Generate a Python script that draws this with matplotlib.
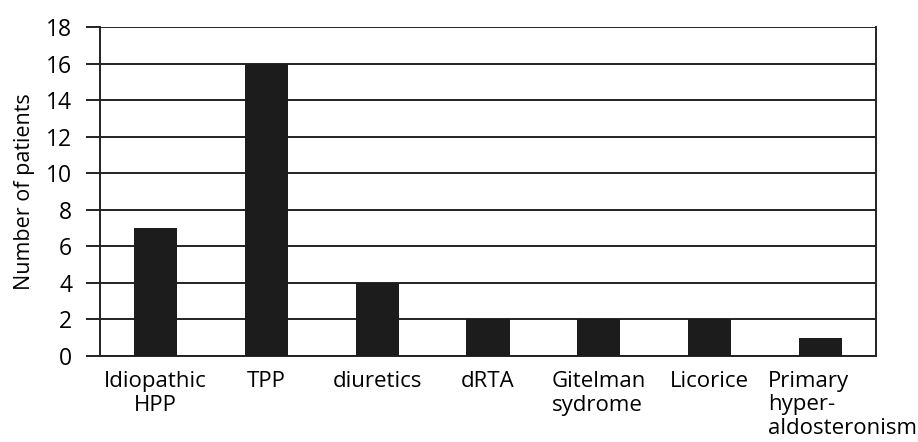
import matplotlib
matplotlib.use('Agg')
import matplotlib.pyplot as plt
import matplotlib.transforms as mtransforms
import numpy as np

plt.rcParams['font.family'] = ['Open Sans', 'DejaVu Sans']

categories = ['Idiopathic\nHPP', 'TPP', 'diuretics', 'dRTA', 'Gitelman\nsydrome', 'Licorice',
              'Primary\nhyper-\naldosteronism']
patients = [7, 16, 4, 2, 2, 2, 1]
yticks = [0, 2, 4, 6, 8, 10, 12, 14, 16, 18]

fig = plt.figure(figsize=(9.18, 4.42), dpi=100)
ax = fig.add_axes([100 / 918, 1 - 356 / 442, 776 / 918, 329 / 442])

x = np.arange(len(categories))
ax.set_axisbelow(True)
ax.yaxis.grid(True, color='#222222', linewidth=1.4)
ax.bar(x, patients, width=0.39, color='#1c1c1c', zorder=3)

ax.set_xlim(-0.5, len(categories) - 0.5)
ax.set_ylim(0, 18)
ax.set_yticks(yticks)
ax.set_xticks(x)

# last label is left-aligned and hangs off to the right, so draw it by hand
ax.set_xticklabels(categories[:-1] + [''], fontsize=16, linespacing=1.15)
for lab in ax.get_xticklabels():
    lab.set_multialignment('left')
ax.get_xticklabels()[0].set_multialignment('center')
trans = mtransforms.blended_transform_factory(ax.transData, ax.transAxes)
ax.text(x[-1] - 0.473, -0.045, categories[-1], transform=trans, fontsize=16,
        ha='left', va='top', linespacing=1.15)

ax.tick_params(axis='x', length=0, pad=11)
ax.tick_params(axis='y', length=10, width=1.4, color='#222222', labelsize=16.5, pad=10)
ax.set_ylabel('Number of patients', fontsize=15.5, labelpad=8)

ax.spines['top'].set_visible(False)
for side in ['left', 'right', 'bottom']:
    ax.spines[side].set_color('#222222')
    ax.spines[side].set_linewidth(1.4)

fig.savefig('out.png', dpi=100)
